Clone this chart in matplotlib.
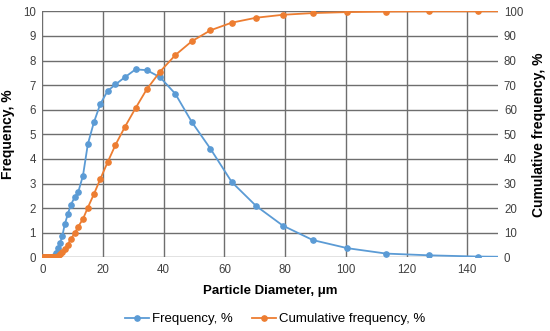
import matplotlib
matplotlib.use("Agg")
import matplotlib.pyplot as plt

plt.rcParams['font.family'] = ['Liberation Sans', 'DejaVu Sans']

diameter = [0.4, 0.45, 0.5, 0.56, 0.63, 0.71, 0.8, 0.9, 1.0, 1.12, 1.26, 1.41, 1.58, 1.78,
            2.0, 2.24, 2.51, 2.82, 3.16, 3.55, 3.98, 4.4, 5.2, 5.8, 6.6, 7.4, 8.4, 9.3,
            10.7, 11.8, 13.4, 15.0, 17.0, 19.1, 21.5, 24.1, 27.2, 30.7, 34.4, 38.8,
            43.8, 49.2, 55.4, 62.4, 70.4, 79.2, 89.1, 100.5, 113.3, 127.4, 143.4, 161.0]
frequency = [0, 0, 0, 0, 0, 0, 0, 0, 0, 0, 0, 0, 0, 0,
             0, 0, 0, 0, 0.01, 0.02, 0.05, 0.19, 0.37, 0.57, 0.87, 1.34, 1.75, 2.11,
             2.45, 2.64, 3.32, 4.6, 5.49, 6.23, 6.76, 7.03, 7.32, 7.64, 7.61, 7.32,
             6.65, 5.51, 4.41, 3.06, 2.09, 1.29, 0.70, 0.37, 0.15, 0.08, 0.03, 0.01]
cumulative = [0, 0, 0, 0, 0, 0, 0, 0, 0, 0, 0, 0, 0, 0,
              0, 0, 0, 0, 0.01, 0.03, 0.08, 0.27, 0.64, 1.2, 2.1, 3.4, 5.1, 7.3,
              9.8, 12.4, 15.6, 20.2, 25.7, 31.8, 38.6, 45.7, 53.0, 60.6, 68.3, 75.5,
              82.2, 87.8, 92.3, 95.4, 97.4, 98.6, 99.3, 99.7, 99.9, 100.0, 100.0, 100.0]

x_ticks = [0, 20, 40, 60, 80, 100, 120, 140]
blue = '#5B9BD5'
orange = '#ED7D31'
grid_c = '#6e6e6e'
tick_c = '#404040'

fig = plt.figure(figsize=(5.5, 3.31), dpi=100)
ax = fig.add_axes([0.0769, 0.2227, 0.828, 0.743])
ax2 = ax.twinx()

ax.set_xlim(0, 150)
ax.set_ylim(0, 10)
ax2.set_ylim(0, 100)
ax.set_xticks(x_ticks)
ax.set_yticks(range(0, 11))
ax2.set_yticks(range(0, 101, 10))

ax.grid(True, color=grid_c, linewidth=1.0)
ax.set_axisbelow(True)
for a in (ax, ax2):
    for s in a.spines.values():
        s.set_visible(False)
    a.tick_params(length=0, labelsize=8.3, labelcolor=tick_c, pad=4.5)

l1, = ax.plot(diameter, frequency, color=blue, lw=1.3, marker='o', ms=3.8,
              label='Frequency, %', zorder=3)
l2, = ax2.plot(diameter, cumulative, color=orange, lw=1.3, marker='o', ms=3.8,
               label='Cumulative frequency, %', zorder=3)

ax.set_xlabel('Particle Diameter, μm', fontsize=9.5, fontweight='bold', labelpad=7)
ax.set_ylabel('Frequency, %', fontsize=10, fontweight='bold', labelpad=6)
ax2.set_ylabel('Cumulative frequency, %', fontsize=10, fontweight='bold', labelpad=6)

fig.legend(handles=[l1, l2], loc='center', bbox_to_anchor=(0.5, 0.036), ncol=2,
           frameon=False, fontsize=9.5, handlelength=1.8, columnspacing=1.5,
           handletextpad=0.2)

fig.savefig('out.png', dpi=100)
